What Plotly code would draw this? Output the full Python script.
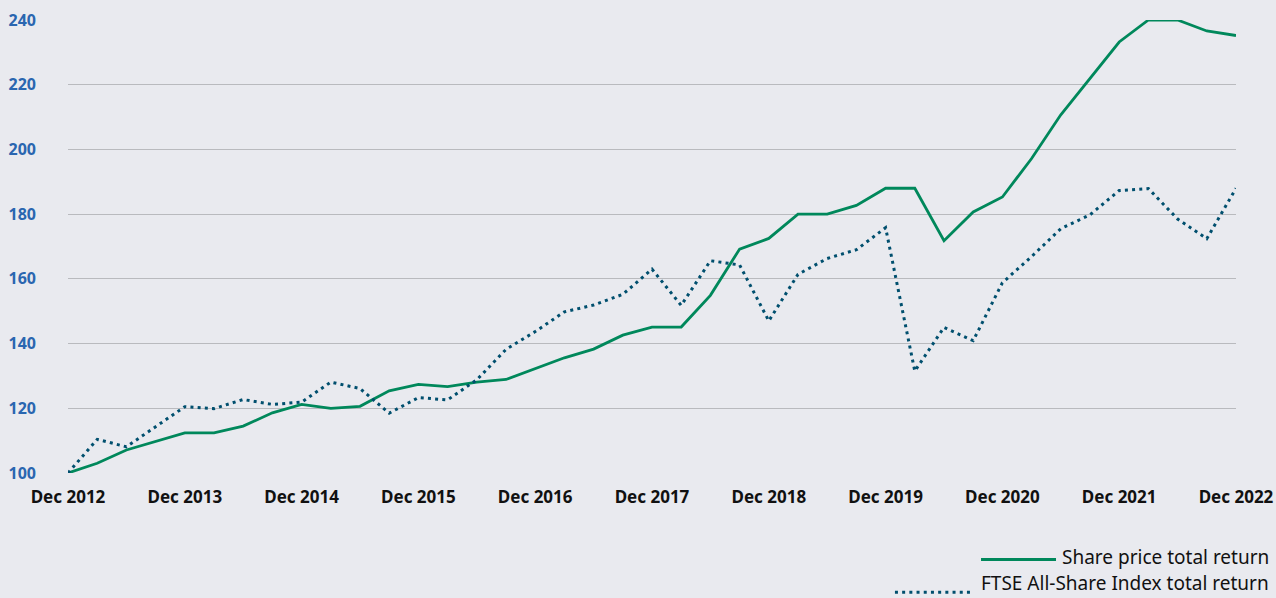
import plotly.graph_objects as go

# Quarterly points, Dec 2012 .. Dec 2022 (41 quarters)
quarters = list(range(41))
share_price = [100.0, 103.0, 107.1, 109.7, 112.4, 112.4, 114.5, 118.6, 121.2, 120.0,
               120.6, 125.4, 127.4, 126.7, 128.1, 128.9, 132.2, 135.6, 138.3, 142.6,
               145.1, 145.1, 154.9, 169.2, 172.5, 180.0, 180.0, 182.7, 188.0, 188.0,
               171.8, 180.7, 185.3, 197.2, 210.7, 222.0, 233.2, 240.0, 240.0, 236.6,
               235.2]
ftse = [100.0, 110.4, 108.1, 114.3, 120.5, 119.9, 122.7, 121.2, 121.9, 128.1,
        126.1, 118.5, 123.3, 122.6, 128.8, 138.2, 143.7, 149.8, 151.9, 155.2,
        163.0, 151.8, 165.6, 164.3, 147.0, 161.4, 166.3, 169.0, 175.8, 131.5,
        145.0, 140.9, 158.8, 166.9, 175.5, 179.8, 187.3, 187.9, 178.5, 172.4,
        188.0]
tick_vals = [0, 4, 8, 12, 16, 20, 24, 28, 32, 36, 40]
tick_text = ["Dec 2012", "Dec 2013", "Dec 2014", "Dec 2015", "Dec 2016", "Dec 2017",
             "Dec 2018", "Dec 2019", "Dec 2020", "Dec 2021", "Dec 2022"]
y_ticks = [100, 120, 140, 160, 180, 200, 220, 240]
series_names = ["Share price total return", "FTSE All-Share Index total return"]

BG = "#e9eaef"
GREEN = "#00885b"
BLUE = "#004f6e"
FONT = "Noto Sans"
DOT = "3px,4.2px"

fig = go.Figure()
fig.add_trace(go.Scatter(x=quarters, y=share_price, mode="lines",
                         name=series_names[0],
                         line=dict(color=GREEN, width=2.8),
                         cliponaxis=False))
fig.add_trace(go.Scatter(x=quarters, y=ftse, mode="lines",
                         name=series_names[1],
                         line=dict(color=BLUE, width=3, dash=DOT),
                         cliponaxis=False))

# Legend drawn as keys + labels below the plot, right-aligned individually
legend_shapes = [
    dict(type="line", xref="paper", yref="paper", x0=0.7817, x1=0.8459,
         y0=-0.191, y1=-0.191, line=dict(color=GREEN, width=3)),
    dict(type="line", xref="paper", yref="paper", x0=0.7080, x1=0.7740,
         y0=-0.263, y1=-0.263, line=dict(color=BLUE, width=3, dash=DOT)),
]
legend_labels = [
    dict(text=series_names[0], xref="paper", yref="paper", x=1.030, y=-0.2185,
         xanchor="right", yanchor="bottom", showarrow=False,
         font=dict(family=FONT, size=19, color="#111111")),
    dict(text=series_names[1], xref="paper", yref="paper", x=1.030, y=-0.2755,
         xanchor="right", yanchor="bottom", showarrow=False,
         font=dict(family=FONT, size=19, color="#111111")),
]

fig.update_layout(
    width=1276, height=598,
    paper_bgcolor=BG, plot_bgcolor=BG,
    margin=dict(l=68, r=40, t=20, b=125, autoexpand=False),
    font=dict(family=FONT),
    showlegend=False,
    shapes=legend_shapes,
    annotations=legend_labels,
    xaxis=dict(range=[0, 40], tickvals=tick_vals, ticktext=tick_text,
               showgrid=False, zeroline=False, showline=False, automargin=False,
               tickfont=dict(family=FONT, size=17, color="#111111", weight="bold"),
               ticklabelstandoff=12),
    yaxis=dict(range=[100, 240], tickvals=y_ticks, showgrid=True, automargin=False,
               gridcolor="#b9babe", gridwidth=1, zeroline=False, showline=False,
               tickfont=dict(family=FONT, size=16, color="#2a66b0", weight="bold"),
               ticklabelstandoff=31),
)

post = "document.body.style.margin='0';document.body.style.background='%s';" % BG

fig.write_html("out.html", config={"displayModeBar": False}, post_script=post)
